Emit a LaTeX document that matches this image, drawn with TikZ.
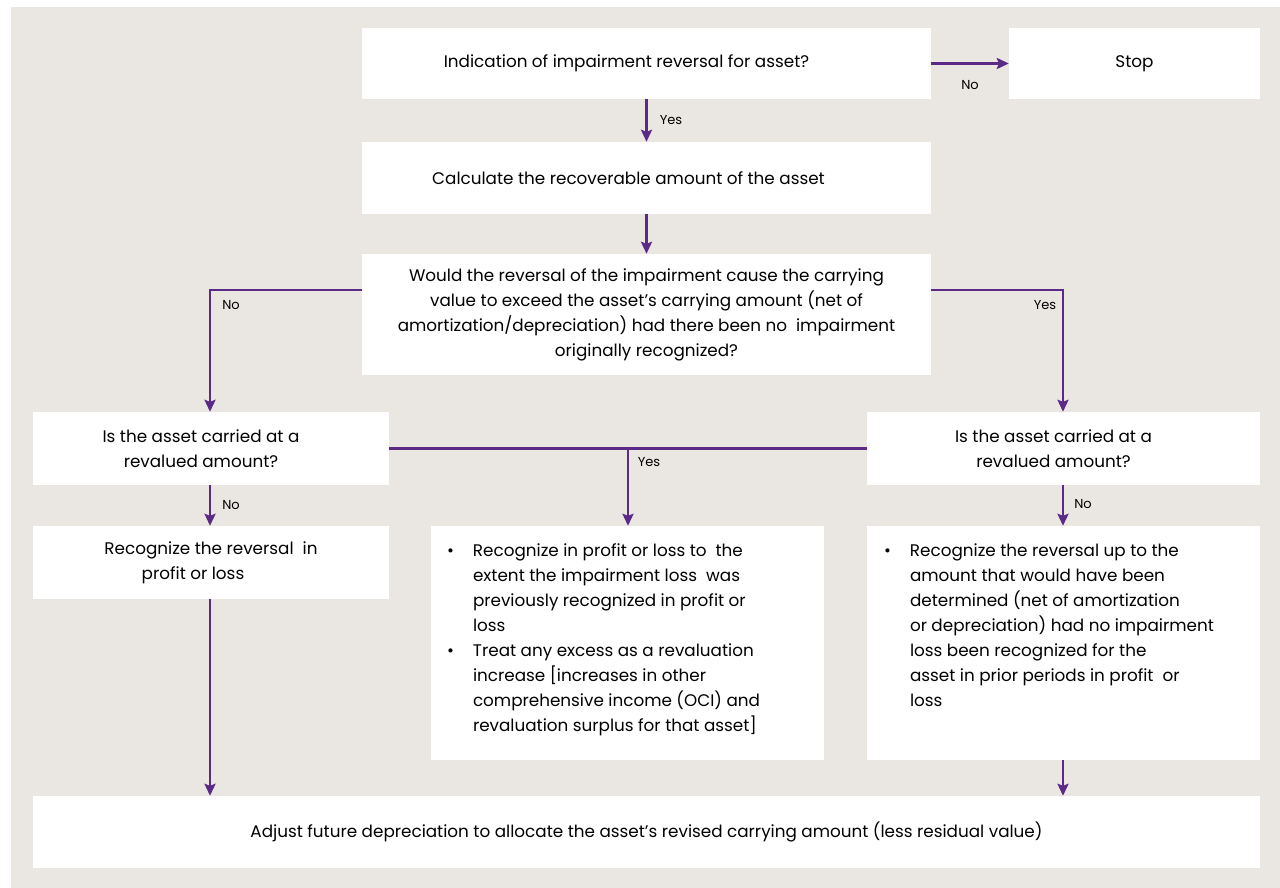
\documentclass[tikz,border=0pt]{standalone}
\usepackage{fontspec}
\setmainfont{Poppins}
\usepackage{xcolor}
\usetikzlibrary{arrows.meta}

\definecolor{sandbg}{HTML}{EAE7E3}
\definecolor{flowpurple}{HTML}{5B2A86}

\begin{document}
\begin{tikzpicture}[x=1pt, y=-1pt,
    box/.style={fill=white, draw=none, inner sep=0pt, align=center,
      font=\fontsize{16.8}{25}\selectfont},
    flow/.style={draw=flowpurple, line width=2.6pt,
      -{Stealth[length=12pt, width=11pt, inset=2pt]}},
    plainflow/.style={draw=flowpurple, line width=2.6pt},
    answer/.style={font=\fontsize{13}{14}\selectfont, inner sep=0pt}]

    % fix the page and draw the background
    \useasboundingbox (0, 0) rectangle (1280, 888);
    \fill[sandbg] (11, 7) rectangle (1280, 888);

    % draw boxes
    \node[box, minimum width=569, minimum height=71] (indication) at (646.5, 63.5)
      {\raisebox{-2pt}{Indication of impairment reversal for asset?}\hspace*{40pt}};
    \node[box, minimum width=251, minimum height=71] (stop) at (1134.5, 63.5)
      {\raisebox{-2pt}{Stop}};
    \node[box, minimum width=569, minimum height=72] (calculate) at (646.5, 178)
      {Calculate the recoverable amount of the asset\hspace*{36pt}};
    \node[box, minimum width=569, minimum height=121] (exceed) at (646.5, 314.5)
      {Would the reversal of the impairment cause the carrying\\
       value to exceed the asset’s carrying amount (net of\\
       amortization/depreciation) had there been no\ \ impairment\\
       originally recognized?};
    \node[box, minimum width=356, minimum height=73] (revaluedL) at (211, 448.5)
      {Is the asset carried at a\hspace*{20pt}\\ revalued amount?\hspace*{20pt}};
    \node[box, minimum width=393, minimum height=73] (revaluedR) at (1063.5, 448.5)
      {Is the asset carried at a\hspace*{20pt}\\ revalued amount?\hspace*{20pt}};
    \node[box, minimum width=356, minimum height=73] (profitloss) at (211, 562.5)
      {Recognize the reversal\ \ in\\ profit or loss\hspace*{36pt}};
    \node[box, minimum width=393, minimum height=234] (excess) at (627.5, 643) {};
    \node[box, minimum width=393, minimum height=234] (upto) at (1063.5, 643) {};
    \node[box, minimum width=1227, minimum height=72] (adjust) at (646.5, 832)
      {Adjust future depreciation to allocate the asset’s revised carrying amount (less residual value)};

    % bullet texts
    \node[box, fill=none, align=left, anchor=north west] (excesstext)
      at ([xshift=16, yshift=-18]excess.north west)
      {\makebox[26pt][l]{\textbullet}Recognize in profit or loss to\ \ the\\
       \hspace*{26pt}extent the impairment loss\ \ was\\
       \hspace*{26pt}previously recognized in profit or\\
       \hspace*{26pt}loss\\
       \makebox[26pt][l]{\textbullet}Treat any excess as a\ revaluation\\
       \hspace*{26pt}increase [increases in other\\
       \hspace*{26pt}comprehensive income (OCI) and\\
       \hspace*{26pt}revaluation surplus for that asset]};
    \node[box, fill=none, align=left, anchor=north west] (uptotext)
      at ([xshift=17, yshift=-18]upto.north west)
      {\makebox[26pt][l]{\textbullet}Recognize the reversal up to the\\
       \hspace*{26pt}amount that would have been\\
       \hspace*{26pt}determined (net of amortization\\
       \hspace*{26pt}or depreciation) had no impairment\\
       \hspace*{26pt}loss been recognized for the\\
       \hspace*{26pt}asset in prior periods in profit\ \ or\\
       \hspace*{26pt}loss};

    % draw connectors
    \draw[flow] (indication) -- (stop);
    \node[answer] (nostop) at (970, 85) {No};
    \draw[flow] (indication.south -| calculate) -- (calculate);
    \node[answer] (yescalc) at (671, 120) {Yes};
    \draw[flow] (calculate) -- (exceed);
    \draw[flow] (exceed.west |- 0, 290) -| (revaluedL.north -| 210, 0);
    \node[answer] (noexceed) at (231, 305) {No};
    \draw[flow] (exceed.east |- 0, 290) -| (revaluedR.north -| 1063, 0);
    \node[answer] (yesexceed) at (1045, 305) {Yes};
    \draw[plainflow] (revaluedL.east) -- (revaluedR.west);
    \draw[flow] (628, 447) -- (excess.north -| 628, 0);
    \node[answer] (yesrevalued) at (649, 462) {Yes};
    \draw[flow] (revaluedL.south -| 210, 0) -- (profitloss.north -| 210, 0);
    \node[answer] (norevaluedL) at (231, 505) {No};
    \draw[flow] (revaluedR.south -| 1063, 0) -- (upto.north -| 1063, 0);
    \node[answer] (norevaluedR) at (1083, 504) {No};
    \draw[flow] (profitloss.south -| 210, 0) -- (adjust.north -| 210, 0);
    \draw[flow] (upto.south -| 1063, 0) -- (adjust.north -| 1063, 0);

\end{tikzpicture}
\end{document}
